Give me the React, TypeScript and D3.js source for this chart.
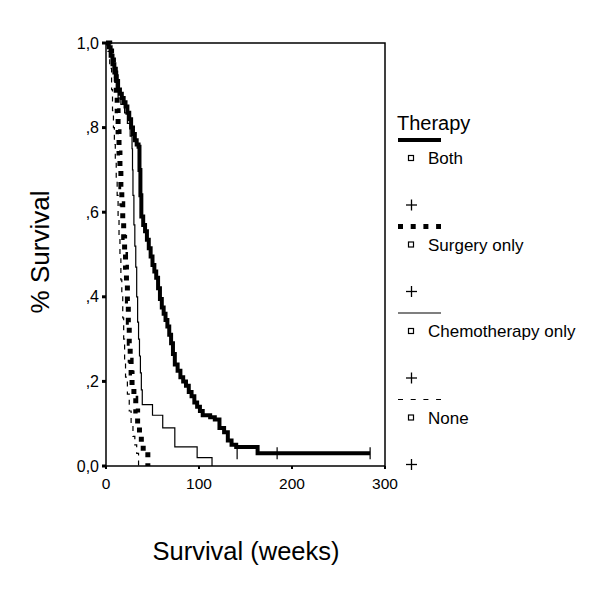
import React from "react";
import * as d3 from "d3";

// ---- data (weeks, survival) ----
const bothTimes = [0, 3, 5, 7, 9, 11, 13, 15, 17, 19, 21, 23, 25, 27, 29, 31, 33, 35, 36, 37, 38, 40, 42, 44, 46, 48, 50, 52, 54, 56, 58, 60, 62, 64, 66, 68, 70, 72, 74, 77, 80, 83, 86, 89, 92, 95, 98, 101, 104, 112, 117, 122, 127, 131, 135, 140, 163, 284];
const bothSurv = [1.0, 0.99, 0.97, 0.95, 0.93, 0.91, 0.89, 0.88, 0.87, 0.86, 0.85, 0.835, 0.82, 0.8, 0.785, 0.77, 0.76, 0.755, 0.7, 0.64, 0.59, 0.57, 0.555, 0.535, 0.515, 0.495, 0.475, 0.46, 0.445, 0.42, 0.395, 0.375, 0.36, 0.345, 0.33, 0.31, 0.29, 0.265, 0.24, 0.225, 0.21, 0.2, 0.19, 0.175, 0.165, 0.15, 0.14, 0.13, 0.12, 0.115, 0.11, 0.09, 0.08, 0.06, 0.05, 0.045, 0.03, 0.03];
const bothCensored = [141, 184, 284];

const surgeryTimes = [0, 4, 6, 8, 10, 11, 12, 13, 14, 15, 16, 17, 18, 19, 20, 21, 22, 23, 24, 25, 26, 27, 28, 30, 32, 34, 36, 38, 40, 45];
const surgerySurv = [1.0, 0.99, 0.97, 0.95, 0.92, 0.88, 0.84, 0.79, 0.74, 0.7, 0.66, 0.62, 0.58, 0.54, 0.5, 0.47, 0.43, 0.39, 0.34, 0.29, 0.25, 0.22, 0.19, 0.16, 0.13, 0.1, 0.07, 0.05, 0.035, 0.0];

const chemoTimes = [0, 3, 5, 7, 9, 11, 13, 16, 20, 23, 26, 28, 28.5, 29, 30, 31, 32, 33, 34, 35, 36, 37, 38, 39, 50, 61, 74, 98, 114];
const chemoSurv = [1.0, 0.99, 0.97, 0.95, 0.92, 0.89, 0.87, 0.855, 0.835, 0.81, 0.78, 0.75, 0.7, 0.64, 0.57, 0.52, 0.47, 0.4, 0.34, 0.3, 0.26, 0.22, 0.18, 0.145, 0.12, 0.09, 0.045, 0.02, 0.0];

const noneTimes = [0, 2, 4, 6, 7, 8, 9, 10, 11, 12, 13, 14, 15, 16, 17, 18, 19, 20, 21, 23, 25, 27, 29, 31, 33, 35];
const noneSurv = [1.0, 0.98, 0.94, 0.89, 0.84, 0.8, 0.76, 0.72, 0.68, 0.64, 0.59, 0.54, 0.49, 0.44, 0.4, 0.35, 0.3, 0.25, 0.21, 0.17, 0.13, 0.1, 0.07, 0.05, 0.03, 0.0];

const xTicks = [0, 100, 200, 300];
const xTickLabels = ["0", "100", "200", "300"];
const yTicks = [0, 0.2, 0.4, 0.6, 0.8, 1.0];
const yTickLabels = ["0,0", ",2", ",4", ",6", ",8", "1,0"];
const groupNames = ["Both", "Surgery only", "Chemotherapy only", "None"];

const FONT = "'Liberation Sans', Arial, Helvetica, sans-serif";

export default function App() {
  const x = d3.scaleLinear().domain([0, 300]).range([106, 385]);
  const y = d3.scaleLinear().domain([0, 1]).range([466, 43]);
  const line = d3
    .line<[number, number]>()
    .x((d) => x(d[0]))
    .y((d) => y(d[1]))
    .curve(d3.curveStepAfter);

  const zip = (t: number[], s: number[]) => t.map((v, i) => [v, s[i]] as [number, number]);

  const series = [
    { name: groupNames[0], data: zip(bothTimes, bothSurv), width: 4, dash: "none" },
    { name: groupNames[1], data: zip(surgeryTimes, surgerySurv), width: 5, dash: "5,6" },
    { name: groupNames[2], data: zip(chemoTimes, chemoSurv), width: 1.2, dash: "none" },
    { name: groupNames[3], data: zip(noneTimes, noneSurv), width: 1.2, dash: "5,5" },
  ];

  const bothLast = bothSurv[bothSurv.length - 1];

  const legendX = 398;
  const legendTop = 140;
  const period = 86.5;

  return (
    <svg width={600} height={600} style={{ position: "absolute", left: 0, top: 0, background: "#fff" }}>
      <rect x={0} y={0} width={600} height={600} fill="#fff" />
      {/* curves */}
      {series.map((s, i) => (
        <path
          key={i}
          d={line(s.data) || ""}
          fill="none"
          stroke="#000"
          strokeWidth={s.width}
          strokeDasharray={s.dash}
          strokeLinecap="butt"
        />
      ))}
      {/* censor marks on Both */}
      {bothCensored.map((t, i) => (
        <g key={i} stroke="#000" strokeWidth={1.2}>
          <line x1={x(t)} x2={x(t)} y1={y(bothLast) - 6} y2={y(bothLast) + 6} />
        </g>
      ))}
      {/* frame */}
      <rect x={106} y={43} width={279} height={423} fill="none" stroke="#000" strokeWidth={1.5} />
      {/* y ticks */}
      {yTicks.map((v, i) => (
        <g key={i}>
          <line x1={102} x2={106} y1={y(v)} y2={y(v)} stroke="#000" strokeWidth={3} />
          <text x={99} y={y(v) + 5.5} textAnchor="end" fontSize={16} fontFamily={FONT} fill="#000">
            {yTickLabels[i]}
          </text>
        </g>
      ))}
      {/* x ticks */}
      {xTicks.map((v, i) => (
        <g key={i}>
          <line x1={x(v)} x2={x(v)} y1={466} y2={469} stroke="#000" strokeWidth={2} />
          <text x={x(v)} y={489} textAnchor="middle" fontSize={15.5} fontFamily={FONT} fill="#000">
            {xTickLabels[i]}
          </text>
        </g>
      ))}
      {/* axis titles */}
      <text x={246} y={560} textAnchor="middle" fontSize={25.5} fontFamily={FONT} fill="#000">
        Survival (weeks)
      </text>
      <text
        transform={`translate(49,252) rotate(-90)`}
        textAnchor="middle"
        fontSize={26}
        fontFamily={FONT}
        fill="#000"
      >
        % Survival
      </text>
      {/* legend */}
      <text x={397} y={legendTop - 10} fontSize={20} fontFamily={FONT} fill="#000">
        Therapy
      </text>
      {series.map((s, i) => {
        const ly = legendTop + i * period;
        return (
          <g key={i}>
            <line
              x1={legendX}
              x2={441}
              y1={ly}
              y2={ly}
              stroke="#000"
              strokeWidth={s.width}
              strokeDasharray={s.dash === "none" ? "none" : "5,7.7"}
            />
            <rect x={408.5} y={ly + 15.5} width={5} height={5} fill="none" stroke="#000" strokeWidth={1.2} />
            <text x={428} y={ly + 24} fontSize={17} fontFamily={FONT} fill="#000">
              {s.name}
            </text>
            <g stroke="#000" strokeWidth={1.3}>
              <line x1={406} x2={417} y1={ly + 65} y2={ly + 65} />
              <line x1={411.5} x2={411.5} y1={ly + 59.5} y2={ly + 70.5} />
            </g>
          </g>
        );
      })}
    </svg>
  );
}
